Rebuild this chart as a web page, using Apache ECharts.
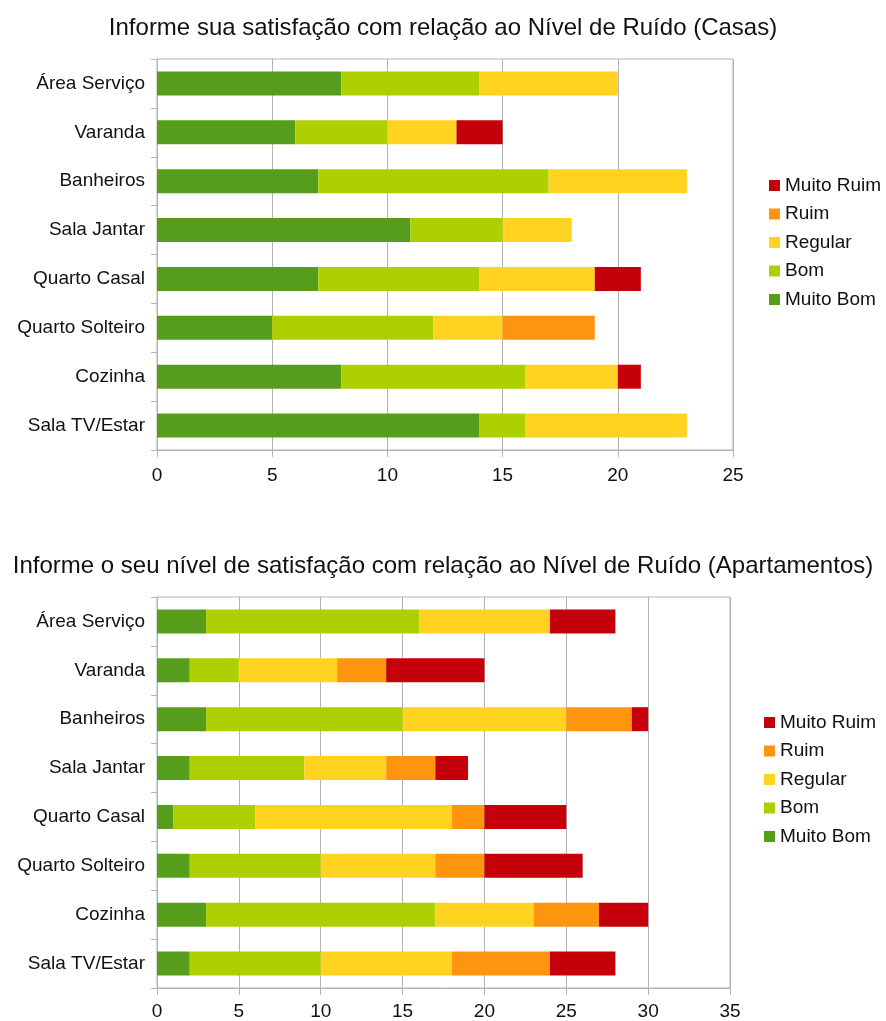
<!DOCTYPE html>
<html>
<head>
<meta charset="utf-8">
<script src="https://cdn.jsdelivr.net/npm/echarts@6/dist/echarts.min.js"></script>
<style>
  body { margin: 0; background: #fff; }
  .chart { width: 886px; height: 510px; }
  #apartamentos { height: 511px; }
</style>
</head>
<body>
<div id="casas" class="chart"></div>
<div id="apartamentos" class="chart"></div>
<script>
// categorias (de cima para baixo)
var rooms = ['Área Serviço', 'Varanda', 'Banheiros', 'Sala Jantar', 'Quarto Casal', 'Quarto Solteiro', 'Cozinha', 'Sala TV/Estar']
var levels = ['Muito Bom', 'Bom', 'Regular', 'Ruim', 'Muito Ruim']
var colors = ['#579d1c', '#aecf00', '#ffd320', '#ff950e', '#c5000b']

// Casas
var casaMuitoBom = [8, 6, 7, 11, 7, 5, 8, 14]
var casaBom = [6, 4, 10, 4, 7, 7, 8, 2]
var casaRegular = [6, 3, 6, 3, 5, 3, 4, 7]
var casaRuim = [0, 0, 0, 0, 0, 4, 0, 0]
var casaMuitoRuim = [0, 2, 0, 0, 2, 0, 1, 0]

// Apartamentos
var aptoMuitoBom = [3, 2, 3, 2, 1, 2, 3, 2]
var aptoBom = [13, 3, 12, 7, 5, 8, 14, 8]
var aptoRegular = [8, 6, 10, 5, 12, 7, 6, 8]
var aptoRuim = [0, 3, 4, 3, 2, 3, 4, 6]
var aptoMuitoRuim = [4, 6, 1, 2, 5, 6, 3, 4]

var casaTicks = [0, 5, 10, 15, 20, 25]
var aptoTicks = [0, 5, 10, 15, 20, 25, 30, 35]

var font = 'Liberation Sans, Arial, sans-serif'
var gridColor = '#b3b3b3'

function getOption(cfg, data) {
  var ticks = cfg.ticks
  return {
    animation: false,
    textStyle: { fontFamily: font },
    title: {
      text: cfg.title,
      left: 'center',
      top: cfg.titleTop,
      textStyle: { fontFamily: font, fontSize: 24, fontWeight: 'normal', color: '#111' }
    },
    legend: {
      orient: 'vertical',
      left: cfg.legendLeft,
      top: cfg.legendTop,
      icon: 'rect',
      itemWidth: 11,
      itemHeight: 11,
      itemGap: 9.5,
      data: levels.slice().reverse(),
      textStyle: { fontFamily: font, fontSize: 19, color: '#111', lineHeight: 19 }
    },
    grid: {
      left: 157,
      width: cfg.gridWidth,
      top: cfg.gridTop,
      height: 391,
      show: true,
      borderColor: gridColor,
      borderWidth: 1
    },
    xAxis: {
      type: 'value',
      min: ticks[0],
      max: ticks[ticks.length - 1],
      interval: 5,
      axisLine: { show: true, lineStyle: { color: gridColor } },
      axisTick: { show: true, length: 7, lineStyle: { color: gridColor } },
      axisLabel: { fontSize: 19, color: '#111', margin: cfg.labelMargin },
      splitLine: { show: true, lineStyle: { color: gridColor, width: 1 } }
    },
    yAxis: {
      type: 'category',
      inverse: true,
      data: rooms,
      axisLine: { show: true, lineStyle: { color: gridColor } },
      axisTick: { show: true, length: 6, lineStyle: { color: gridColor } },
      axisLabel: { fontSize: 19, color: '#111', margin: 12 }
    },
    series: levels.map(function (name, i) {
      return {
        name: name,
        type: 'bar',
        stack: 'total',
        barWidth: 24,
        itemStyle: { color: colors[i] },
        data: data[i]
      }
    })
  }
}

var casasChart = echarts.init(document.getElementById('casas'))
casasChart.setOption(getOption({
  title: 'Informe sua satisfação com relação ao Nível de Ruído (Casas)',
  titleTop: 11, gridTop: 59, gridWidth: 576, legendLeft: 764, legendTop: 171,
  labelMargin: 16, ticks: casaTicks
}, [casaMuitoBom, casaBom, casaRegular, casaRuim, casaMuitoRuim]))

var aptoChart = echarts.init(document.getElementById('apartamentos'))
aptoChart.setOption(getOption({
  title: 'Informe o seu nível de satisfação com relação ao Nível de Ruído (Apartamentos)',
  titleTop: 39, gridTop: 87, gridWidth: 573, legendLeft: 759, legendTop: 198,
  labelMargin: 14, ticks: aptoTicks
}, [aptoMuitoBom, aptoBom, aptoRegular, aptoRuim, aptoMuitoRuim]))
</script>
</body>
</html>
